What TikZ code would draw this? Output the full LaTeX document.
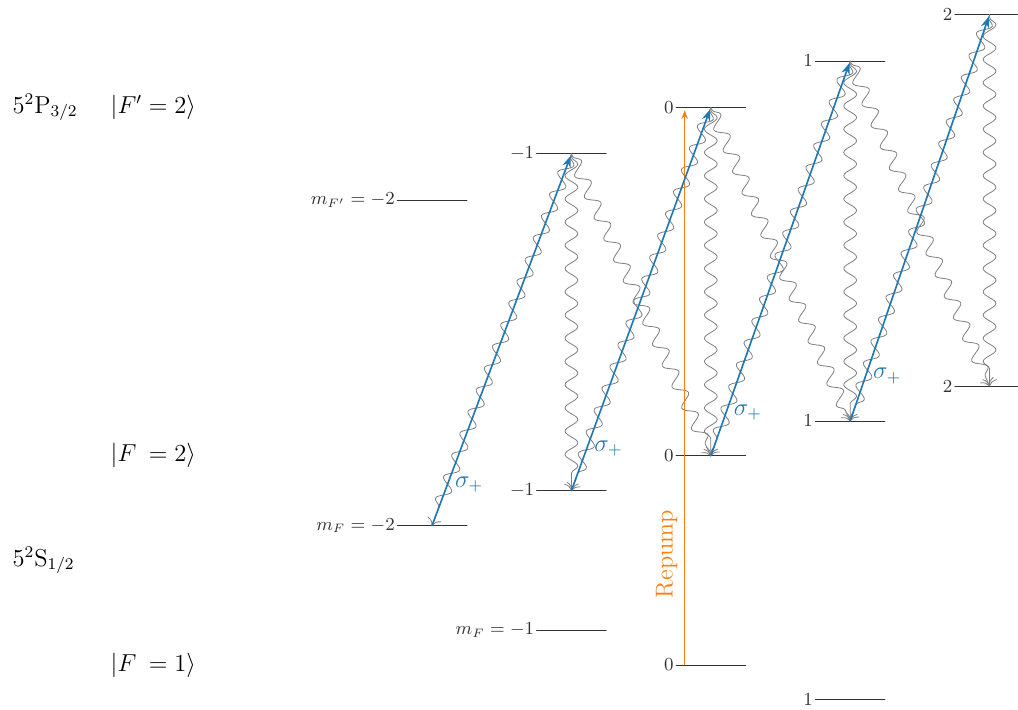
\documentclass[tikz,border=0pt]{standalone}
\usepackage{amsmath,amssymb}
\usepackage{tikz}
\usetikzlibrary{arrows.meta,decorations.pathmorphing}
\usepackage{xcolor}
\definecolor{pumpblue}{HTML}{1F77B4}
\definecolor{repumporange}{HTML}{FF7F0E}
\tikzset{
  level/.style={black!80},
  mlabel/.style={left,inner sep=1pt,font=\small},
  statelabel/.style={anchor=west,inner sep=0pt,font=\large},
  pump/.style={pumpblue,thick,->,shorten >=1pt},
  decay/.style={gray,-{To[length=1.2mm]},decorate,
    decoration={snake,amplitude=1.1mm,segment length=4mm,pre length=0.5mm,post length=1.5mm}}
}

\begin{document}
\begin{tikzpicture}[>={Stealth[length=2mm]},line cap=round]
\useasboundingbox (-11.64,-0.76) rectangle (5.89,11.45);
% level centres
\coordinate (em2) at (-4.2,8.0);
\coordinate (em1) at (-1.8,8.8);
\coordinate (e0) at (0.6,9.6);
\coordinate (ep1) at (3.0,10.4);
\coordinate (ep2) at (5.4,11.2);
\coordinate (gm2) at (-4.2,2.4);
\coordinate (gm1) at (-1.8,3.0);
\coordinate (g0) at (0.6,3.6);
\coordinate (gp1) at (3.0,4.2);
\coordinate (gp2) at (5.4,4.8);
\coordinate (hm1) at (-1.8,0.6);
\coordinate (h0) at (0.6,0);
\coordinate (hp1) at (3.0,-0.6);
% state names
\node[statelabel] (pstate) at (-11.43,9.6) {$5^2\mathrm{P}_{3/2}$};
\node[statelabel] (fprime2) at (-9.74,9.6) {$|F'=2\rangle$};
\node[statelabel] (ftwo) at (-9.74,3.6) {$|F\phantom{'}=2\rangle$};
\node[statelabel] (sstate) at (-11.43,1.8) {$5^2\mathrm{S}_{1/2}$};
\node[statelabel] (fone) at (-9.74,0) {$|F\phantom{'}=1\rangle$};
% levels
\draw[level] (em2) +(-0.6,0) node[mlabel] (lem2) {$m_{F'} = -2$} -- +(0.6,0);
\draw[level] (em1) +(-0.6,0) node[mlabel] (lem1) {$-1$} -- +(0.6,0);
\draw[level] (e0) +(-0.6,0) node[mlabel] (le0) {$0$} -- +(0.6,0);
\draw[level] (ep1) +(-0.6,0) node[mlabel] (lep1) {$1$} -- +(0.6,0);
\draw[level] (ep2) +(-0.6,0) node[mlabel] (lep2) {$2$} -- +(0.6,0);
\draw[level] (gm2) +(-0.6,0) node[mlabel] (lgm2) {$m_F = -2$} -- +(0.6,0);
\draw[level] (gm1) +(-0.6,0) node[mlabel] (lgm1) {$-1$} -- +(0.6,0);
\draw[level] (g0) +(-0.6,0) node[mlabel] (lg0) {$0$} -- +(0.6,0);
\draw[level] (gp1) +(-0.6,0) node[mlabel] (lgp1) {$1$} -- +(0.6,0);
\draw[level] (gp2) +(-0.6,0) node[mlabel] (lgp2) {$2$} -- +(0.6,0);
\draw[level] (hm1) +(-0.6,0) node[mlabel] (lhm1) {$m_F = -1$} -- +(0.6,0);
\draw[level] (h0) +(-0.6,0) node[mlabel] (lh0) {$0$} -- +(0.6,0);
\draw[level] (hp1) +(-0.6,0) node[mlabel] (lhp1) {$1$} -- +(0.6,0);
% spontaneous decay
\draw[decay] (em1) -- (gm2);
\draw[decay] (em1) -- (gm1);
\draw[decay] (em1) -- (g0);
\draw[decay] (e0) -- (gm1);
\draw[decay] (e0) -- (g0);
\draw[decay] (e0) -- (gp1);
\draw[decay] (ep1) -- (g0);
\draw[decay] (ep1) -- (gp1);
\draw[decay] (ep1) -- (gp2);
\draw[decay] (ep2) -- (gp1);
\draw[decay] (ep2) -- (gp2);
% repump
\coordinate (rpa) at (0.15,0);
\coordinate (rpb) at (0.15,9.55);
\draw[repumporange,->,>={Stealth[length=1.5mm]}] (rpa) -- (rpb)
  node[pos=0.2,above,sloped,font=\large] (rplabel) {Repump};
% sigma+ pumping
\draw[pump] (gm2) -- (em1) node[pos=0.11,right,font=\large] (sa) {$\sigma_+$};
\draw[pump] (gm1) -- (e0) node[pos=0.11,right,font=\large] (sb) {$\sigma_+$};
\draw[pump] (g0) -- (ep1) node[pos=0.11,right,font=\large] (sc) {$\sigma_+$};
\draw[pump] (gp1) -- (ep2) node[pos=0.11,right,font=\large] (sd) {$\sigma_+$};
\end{tikzpicture}
\end{document}
